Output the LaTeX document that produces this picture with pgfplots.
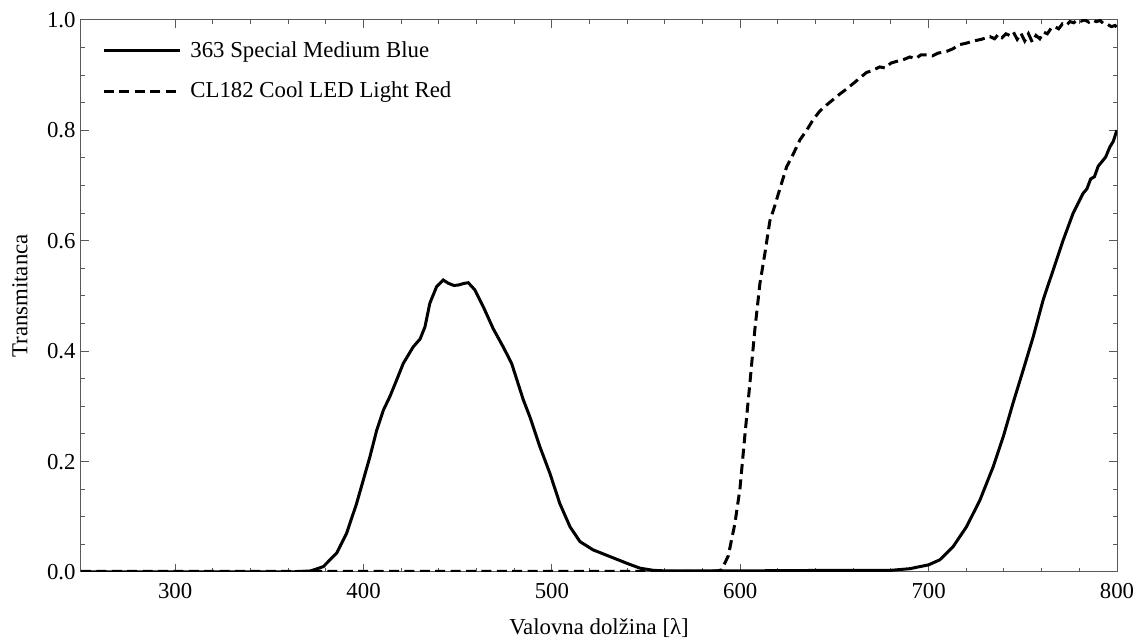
\documentclass[border=0pt]{standalone}
\usepackage{pgfplots}
\pgfplotsset{compat=1.18}
\usepackage{fontspec}
\setmainfont{Liberation Serif}

\pgfplotstableread{
x y
250 0
300 0
360 0
368 0.001
372 0.002
378.6 0.0097
385.7 0.034
391 0.070
396.3 0.124
399.9 0.167
403.4 0.209
407 0.257
410.5 0.293
414 0.318
417.6 0.348
421.1 0.378
426.4 0.408
430 0.422
432.6 0.444
435.2 0.487
438.8 0.517
442.3 0.529
445 0.523
448 0.519
450.5 0.520
453.5 0.523
455.6 0.524
459.1 0.511
463.5 0.481
468.8 0.441
474.1 0.408
478.6 0.378
484.8 0.312
488.3 0.281
493.6 0.227
498.9 0.179
504.2 0.124
509.6 0.082
514.9 0.055
521.9 0.040
530.8 0.028
539.6 0.016
546.7 0.007
553.8 0.003
560 0.002
600 0.002
650 0.003
680 0.003
690 0.006
700 0.013
705.9 0.022
713 0.046
720.1 0.082
727.2 0.130
734.3 0.191
739.6 0.245
744.8 0.306
750.2 0.366
755.5 0.426
760.8 0.493
766.1 0.547
771.4 0.601
776.7 0.650
782 0.686
784 0.694
786 0.712
788 0.716
790 0.735
792.6 0.746
794 0.752
796.2 0.770
798 0.780
799.7 0.798
800 0.800
}\blue

\pgfplotstableread{
x y
250 0.001
400 0.001
500 0.001
580 0.001
588 0.002
590.1 0.004
593.6 0.029
597.1 0.087
599.8 0.150
602.4 0.246
605.1 0.342
607.7 0.438
610.4 0.522
613.1 0.578
615.7 0.636
618 0.660
621 0.694
624.6 0.734
628.1 0.757
631.7 0.783
635.2 0.800
638.6 0.819
642.2 0.835
645.8 0.846
649 0.855
652.9 0.866
656.4 0.875
660 0.885
663.5 0.895
667 0.905
670 0.908
674 0.915
677 0.913
680 0.922
683 0.925
686.5 0.928
690 0.933
693 0.930
696 0.937
699 0.937
702 0.935
705 0.940
709.5 0.943
713 0.948
716 0.955
720 0.958
724 0.962
728 0.965
732.5 0.970
735 0.966
737 0.974
739 0.968
741 0.975
743 0.972
745 0.978
747 0.965
749 0.976
751 0.962
753 0.975
755 0.960
757 0.972
759 0.966
761 0.978
763 0.975
765 0.985
767 0.988
769 0.984
771 0.993
773 0.990
775 0.997
777 0.995
779 1.0
781 0.998
783 1.0
785 0.996
787 1.0
789 0.997
791 0.999
793 0.993
795 0.992
797 0.988
799 0.990
800 0.986
}\red

\begin{document}
\begin{tikzpicture}[font=\fontsize{11.4pt}{13.7pt}\selectfont]
\begin{axis}[
  scale only axis, width=518pt, height=276pt,
  at={(0,0)}, anchor=south west,
  xmin=250, xmax=800, ymin=0, ymax=1,
  xtick={300,400,500,600,700,800}, minor x tick num=4,
  ytick={0,0.2,0.4,0.6,0.8,1}, minor y tick num=3,
  tick align=inside, major tick length=4pt, minor tick length=2pt,
  every tick/.style={black!65, line width=0.5pt},
  axis line style={black!65, line width=0.5pt},
  /pgf/number format/assume math mode=true,
  xticklabel style={/pgf/number format/set thousands separator={}, inner sep=0pt, yshift=-5.5pt},
  yticklabel style={/pgf/number format/.cd, fixed, fixed zerofill, precision=1, /tikz/.cd, inner sep=0pt, xshift=-2.5pt},
  xlabel={Valovna dolžina [λ]},
  ylabel={Transmitanca},
  xlabel style={at={(axis description cs:0.5,-0.1014)}, anchor=center},
  ylabel style={at={(axis description cs:-0.0589,0.5)}, anchor=center},
  legend style={at={(axis description cs:0,1)}, anchor=north west, xshift=10.5pt, yshift=-8.4pt,
    draw=none, fill=none, inner sep=0pt, row sep=6.8pt, column sep=2.5pt,
    font=\fontsize{11.4pt}{13.7pt}\selectfont},
  legend cell align=left,
  legend image code/.code={\draw[#1, line width=1.5pt] (0pt,0pt) -- (38pt,0pt);},
]
\addplot[black, line width=1.5pt] table[x=x, y=y] {\blue};
\addlegendentry{363 Special Medium Blue}
\addplot[black, line width=1.5pt, dash pattern=on 5pt off 2.7pt] table[x=x, y=y] {\red};
\addlegendentry{CL182 Cool LED Light Red}
\end{axis}
\pgfresetboundingbox
\path[use as bounding box] (-40.5pt,-34.5pt) rectangle (528.5pt,286pt);
\end{tikzpicture}
\end{document}
